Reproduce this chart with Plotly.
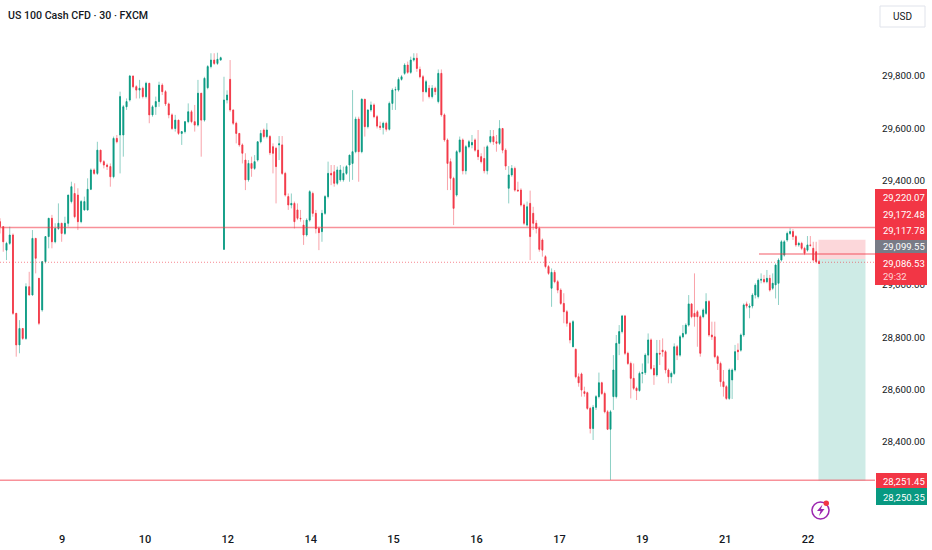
import numpy as np
import plotly.graph_objects as go

# 30 min bars
opens = [
    29242,29223,29133,29159,29191,28891,28770,28833,28795,28993,
    28961,29178,29025,28904,29089,29185,29255,29165,29216,29236,
    29197,29236,29319,29350,29344,29242,29287,29287,29366,29440,
    29427,29516,29472,29459,29453,29414,29561,29574,29574,29682,
    29708,29800,29759,29746,29753,29721,29772,29651,29682,29702,
    29765,29740,29693,29651,29599,29631,29580,29587,29625,29663,
    29625,29612,29734,29631,29755,29836,29861,29848,29861,29136,
    29708,29787,29670,29619,29580,29536,29478,29402,29465,29446,
    29478,29548,29593,29568,29568,29529,29523,29536,29536,29427,
    29338,29306,29312,29287,29255,29229,29191,29248,29350,29274,
    29216,29204,29274,29338,29427,29433,29389,29402,29402,29427,
    29459,29465,29510,29635,29510,29711,29606,29670,29689,29644,
    29608,29603,29619,29596,29695,29746,29746,29787,29810,29842,
    29814,29861,29868,29825,29797,29740,29753,29721,29753,29702,
    29810,29651,29555,29472,29408,29344,29510,29555,29437,29529,
    29536,29555,29516,29491,29484,29437,29548,29568,29548,29542,
    29599,29516,29370,29421,29446,29363,29363,29306,29229,29312,
    29274,29236,29216,29172,29108,29070,28987,29048,29012,28980,
    28929,28897,28853,28763,28753,28648,28659,28591,28587,28527,
    28450,28531,28572,28625,28584,28514,28447,28572,28572,28776,
    28821,28881,28738,28699,28642,28604,28595,28661,28664,28731,
    28789,28680,28655,28738,28750,28744,28674,28648,28661,28763,
    28731,28801,28814,28846,28927,28891,28897,28878,28878,28891,
    28936,28808,28801,28725,28699,28629,28610,28565,28636,28674,
    28750,28750,28808,28927,28914,28919,28961,28955,29018,29021,
    29012,29025,28987,29000,29006,29095,29114,29172,29197,29204,
    29185,29153,29159,29140,29133,29153,29140,29127,29089,
]
closes = [
    29223,29165,29159,29191,28891,28770,28833,28795,28993,28961,
    29178,29102,28853,29089,29185,29255,29165,29216,29236,29197,
    29236,29344,29376,29261,29242,29319,29319,29366,29440,29427,
    29516,29472,29459,29453,29414,29561,29548,29721,29682,29702,
    29800,29759,29746,29753,29721,29772,29651,29682,29702,29765,
    29740,29693,29651,29599,29631,29580,29587,29625,29663,29625,
    29612,29734,29631,29791,29836,29861,29848,29864,29870,29708,
    29727,29670,29619,29580,29536,29504,29402,29465,29446,29472,
    29548,29580,29568,29593,29506,29504,29453,29540,29427,29344,
    29306,29312,29242,29255,29253,29191,29248,29357,29274,29216,
    29200,29274,29338,29427,29421,29389,29440,29440,29427,29453,
    29497,29510,29635,29510,29711,29606,29670,29689,29644,29608,
    29603,29619,29596,29695,29746,29748,29787,29797,29842,29814,
    29861,29868,29829,29797,29740,29778,29721,29753,29740,29810,
    29651,29555,29465,29408,29293,29510,29555,29437,29529,29548,
    29545,29516,29491,29472,29437,29529,29568,29548,29542,29599,
    29516,29455,29421,29446,29363,29360,29306,29236,29299,29185,
    29236,29216,29136,29133,29070,29044,29048,29012,28980,28929,
    28897,28853,28789,28859,28648,28625,28597,28584,28527,28450,
    28531,28572,28625,28584,28514,28447,28514,28674,28776,28821,
    28881,28738,28699,28642,28604,28595,28661,28664,28731,28789,
    28680,28655,28738,28735,28744,28674,28648,28661,28763,28731,
    28801,28814,28846,28927,28878,28878,28878,28738,28904,28936,
    28808,28801,28725,28699,28629,28610,28565,28674,28674,28744,
    28744,28808,28923,28919,28919,28961,28999,29018,29021,29012,
    29025,28980,29006,29076,29095,29165,29165,29197,29204,29185,
    29153,29159,29140,29121,29153,29151,29095,29089,29082,
]
highs = [
    29255,29223,29165,29223,29197,28891,28865,28833,29006,29050,
    29210,29178,29025,29089,29185,29255,29268,29236,29312,29236,
    29261,29344,29395,29389,29370,29325,29338,29408,29446,29446,
    29548,29516,29478,29465,29465,29568,29574,29740,29689,29714,
    29804,29800,29765,29785,29759,29778,29772,29689,29721,29778,
    29772,29746,29698,29657,29651,29631,29587,29625,29695,29670,
    29689,29785,29734,29797,29842,29887,29887,29889,29874,29797,
    29745,29861,29670,29625,29580,29542,29504,29478,29491,29497,
    29548,29593,29599,29619,29574,29542,29529,29570,29570,29433,
    29350,29350,29319,29312,29287,29248,29255,29363,29357,29287,
    29223,29287,29344,29472,29459,29459,29453,29459,29453,29459,
    29497,29746,29644,29644,29714,29711,29670,29702,29695,29651,
    29625,29625,29625,29702,29753,29759,29795,29804,29849,29855,
    29874,29887,29887,29836,29804,29785,29765,29765,29759,29825,
    29825,29657,29561,29484,29414,29516,29568,29561,29536,29555,
    29574,29561,29593,29504,29529,29536,29593,29593,29574,29631,
    29599,29523,29455,29459,29453,29395,29370,29312,29319,29361,
    29299,29248,29223,29178,29114,29076,29063,29057,29019,28987,
    28968,28904,28859,28865,28757,28661,28664,28610,28591,28533,
    28540,28578,28664,28629,28591,28521,28521,28731,28808,28846,
    28885,28885,28744,28706,28699,28610,28668,28699,28738,28814,
    28795,28693,28789,28789,28795,28750,28680,28668,28776,28770,
    28808,28846,28853,28961,28929,29044,28904,28885,28910,28968,
    28942,28859,28859,28731,28706,28674,28616,28680,28680,28770,
    28776,28814,28929,28936,28929,28968,29006,29025,29044,29038,
    29057,29038,29044,29082,29102,29172,29172,29204,29217,29213,
    29191,29165,29165,29146,29187,29187,29165,29165,29095,
]
lows = [
    29197,29127,29095,29153,28885,28725,28738,28789,28789,28961,
    28961,29044,28846,28897,29082,29140,29140,29159,29210,29165,
    29191,29223,29312,29255,29210,29236,29284,29284,29363,29421,
    29421,29465,29446,29440,29376,29408,29542,29427,29491,29670,
    29702,29753,29714,29714,29714,29714,29619,29644,29651,29682,
    29727,29685,29638,29593,29587,29574,29536,29580,29619,29619,
    29587,29606,29491,29625,29749,29829,29842,29842,29859,29136,
    29695,29663,29612,29542,29529,29465,29363,29395,29414,29440,
    29472,29542,29561,29561,29497,29427,29312,29478,29421,29338,
    29287,29293,29216,29248,29242,29153,29185,29242,29261,29197,
    29133,29165,29268,29331,29382,29376,29382,29395,29395,29421,
    29395,29402,29504,29395,29504,29568,29599,29663,29638,29599,
    29593,29576,29587,29591,29670,29670,29740,29782,29804,29808,
    29808,29855,29816,29791,29702,29734,29714,29714,29727,29695,
    29644,29548,29363,29363,29229,29338,29504,29423,29423,29523,
    29523,29510,29478,29465,29427,29423,29542,29536,29510,29536,
    29504,29440,29312,29414,29357,29357,29300,29229,29223,29095,
    29210,29197,29127,29108,29063,29038,28916,29006,28968,28923,
    28853,28840,28776,28763,28642,28610,28572,28572,28521,28431,
    28406,28521,28565,28578,28508,28444,28253,28521,28565,28731,
    28814,28731,28693,28565,28597,28559,28591,28623,28655,28699,
    28674,28617,28648,28693,28725,28661,28623,28623,28655,28712,
    28725,28795,28808,28840,28872,28840,28763,28725,28872,28885,
    28801,28789,28719,28674,28610,28572,28559,28559,28563,28668,
    28712,28744,28801,28910,28872,28910,28948,28948,29006,29006,
    29006,28974,28980,28948,28923,29089,29108,29165,29191,29172,
    29146,29146,29133,29114,29127,29146,29089,29082,29080,
]

# x axis is in sessions, one unit per date label
tick_pos = [0, 1, 2, 3, 4, 5, 6, 7, 8, 9]
tick_text = ["9", "10", "12", "14", "15", "16", "17", "19", "21", "22"]
price_ticks = [28400, 28600, 28800, 29000, 29400, 29600, 29800]

# bars per stretch between the spike on the 12th and the start of the 17th
x_bars = np.concatenate([
    np.linspace(-0.748, 1.914, 69),
    np.linspace(1.954, 6.164, 115),
    np.linspace(6.197, 9.132, 85),
])

RED = "#f23645"
GREEN = "#089981"
GREY = "#787b86"

body_high = [max(o, c) for o, c in zip(opens, closes)]
body_low = [min(o, c) for o, c in zip(opens, closes)]

fig = go.Figure()
fig.add_trace(go.Candlestick(
    x=x_bars, open=opens, high=highs, low=lows, close=closes, opacity=0.45,
    increasing=dict(line=dict(color=GREEN, width=1), fillcolor=GREEN),
    decreasing=dict(line=dict(color=RED, width=1), fillcolor=RED),
    whiskerwidth=0, showlegend=False))
fig.add_trace(go.Candlestick(
    x=x_bars, open=opens, high=body_high, low=body_low, close=closes,
    increasing=dict(line=dict(color=GREEN, width=0.8), fillcolor=GREEN),
    decreasing=dict(line=dict(color=RED, width=0.8), fillcolor=RED),
    whiskerwidth=0, showlegend=False))

shapes = []


def hline(y, x0=0, line_w=1.5, dash="solid", alpha=0.55):
    shapes.append(dict(type="line", xref="x domain", yref="y", x0=x0, x1=1, y0=y, y1=y,
                       line=dict(color=f"rgba(242,54,69,{alpha})", width=line_w, dash=dash)))


hline(29220.07)
hline(29117.78, x0=759 / 875)
hline(29086.53, line_w=1, dash="1px,2px", alpha=0.6)
hline(28251.45)

# short position box
shapes.append(dict(type="rect", xref="x", yref="y", x0=9.125, x1=9.692, y0=29099.55, y1=29172.48,
                   fillcolor="rgba(242,54,69,0.2)", line=dict(width=0), layer="below"))
shapes.append(dict(type="rect", xref="x", yref="y", x0=9.125, x1=9.692, y0=28250.35, y1=29099.55,
                   fillcolor="rgba(8,153,129,0.2)", line=dict(width=0), layer="below"))


def px_x(v):
    return v / 932


def px_y(v):
    return 1 - v / 550


def box(x0, x1, y0, y1, fill, line=None, w=0):
    shapes.append(dict(type="rect", xref="paper", yref="paper", layer="above",
                       x0=px_x(x0), x1=px_x(x1), y0=px_y(y0), y1=px_y(y1),
                       fillcolor=fill, line=dict(color=line, width=w)))


# price labels on the axis
box(875, 927, 189, 285, RED)
box(875, 927, 240, 253, GREY)
box(876, 927, 473, 488, RED)
box(876, 927, 488, 505, GREEN)
# USD button
box(880, 925, 6, 27, "white", "#e0e3eb", 1)

# lightning icon
shapes.append(dict(type="circle", xref="paper", yref="paper", x0=px_x(812), x1=px_x(829),
                   y0=px_y(502), y1=px_y(519), line=dict(color="#9c27b0", width=1.5),
                   fillcolor="white"))
bolt = [(822.5, 504.5), (817, 511), (820.5, 511), (819, 516), (824.5, 509), (821, 509)]
path = "M " + " L ".join(f"{px_x(a):.5f},{px_y(b):.5f}" for a, b in bolt) + " Z"
shapes.append(dict(type="path", xref="paper", yref="paper", path=path,
                   fillcolor="#9c27b0", line=dict(width=0)))
shapes.append(dict(type="circle", xref="paper", yref="paper", x0=px_x(823.5), x1=px_x(829),
                   y0=px_y(500.5), y1=px_y(506), fillcolor=RED, line=dict(width=0)))

FONT = "Roboto"
label_rows = [
    ("29,220.07", 197.5, "white"), ("29,172.48", 214, "white"), ("29,117.78", 230, "white"),
    ("29,099.55", 246.5, "white"), ("29,086.53", 263, "white"), ("29:32", 276.5, "#ffd5d8"),
    ("28,251.45", 481, "white"), ("28,250.35", 497, "white"),
]
annotations = []
for txt, y, col in label_rows:
    annotations.append(dict(text=txt, xref="paper", yref="paper", x=px_x(881), y=px_y(y),
                            xanchor="left", yanchor="middle", showarrow=False,
                            font=dict(family=FONT, size=9.5, color=col)))
annotations.append(dict(text="USD", xref="paper", yref="paper", x=px_x(902.5), y=px_y(16.5),
                        xanchor="center", yanchor="middle", showarrow=False,
                        font=dict(family=FONT, size=10, color="#131722")))
annotations.append(dict(text="US 100 Cash CFD · 30 · FXCM", xref="paper", yref="paper",
                        x=px_x(6), y=px_y(16), xanchor="left", yanchor="middle", showarrow=False,
                        font=dict(family=FONT, size=10.6, color="#131722", weight=500)))

fig.update_layout(
    width=932, height=550,
    margin=dict(l=0, r=0, t=0, b=0),
    paper_bgcolor="white", plot_bgcolor="white",
    boxgap=0.55,
    shapes=shapes, annotations=annotations,
    font=dict(family=FONT, color="#131722"),
    xaxis=dict(domain=[0, 875 / 932], range=[-0.748, 9.807], rangeslider=dict(visible=False),
               tickmode="array", tickvals=tick_pos, ticktext=tick_text,
               ticks="outside", ticklen=9, tickcolor="white", tickwidth=1,
               tickfont=dict(family=FONT, size=11, color="#131722", weight=500),
               showgrid=False, zeroline=False, showline=False),
    yaxis=dict(domain=[30 / 550, 1], range=[28099.5, 30091], side="right", anchor="x",
               tickmode="array", tickvals=price_ticks, tickformat=",.2f",
               ticks="outside", ticklen=4, tickcolor="white",
               tickfont=dict(family=FONT, size=9.8, color="#131722"),
               showgrid=False, zeroline=False, showline=False),
)

# the page body has a default 8px margin, drop it so the chart fills the window
fig.write_html("out.html", config=dict(displayModeBar=False),
               post_script="document.body.style.margin='0';")
